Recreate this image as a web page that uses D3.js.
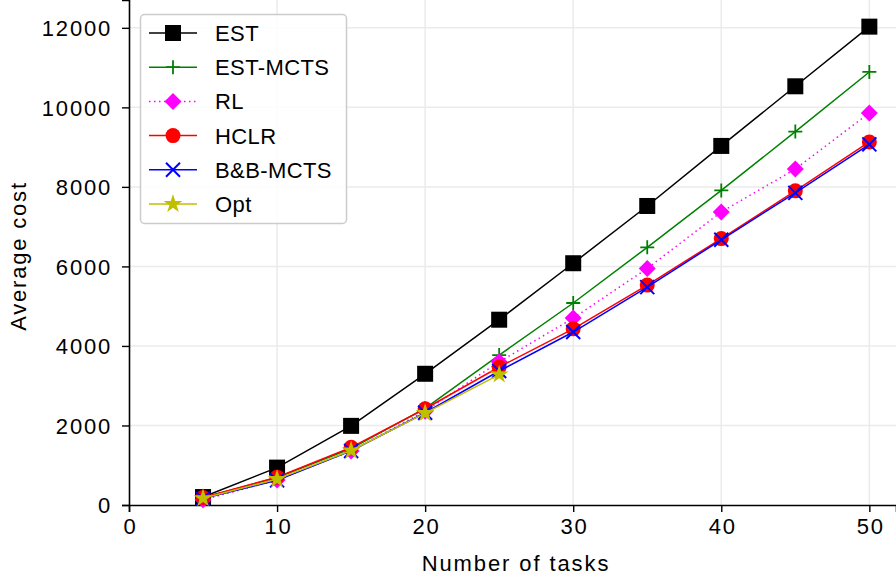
<!DOCTYPE html>
<html>
<head>
<meta charset="utf-8">
<script src="https://cdn.jsdelivr.net/npm/d3@7"></script>
<style>
  body { margin: 0; background: #fff; }
  svg text { font-family: "Liberation Sans", Arial, sans-serif; fill: #000; }
</style>
</head>
<body>
<div id="chart"></div>
<script>
// number of tasks
const tasks = [5, 10, 15, 20, 25, 30, 35, 40, 45, 50];
const optTasks = [5, 10, 15, 20, 25];

// average cost per method
const est = [200, 940, 1990, 3300, 4660, 6080, 7520, 9030, 10530, 12030];
const estMcts = [180, 690, 1420, 2430, 3770, 5080, 6480, 7910, 9390, 10890];
const rl = [130, 630, 1360, 2360, 3600, 4700, 5950, 7370, 8450, 9860];
const hclr = [190, 700, 1450, 2420, 3470, 4430, 5530, 6700, 7900, 9130];
const bbMcts = [160, 620, 1360, 2320, 3370, 4350, 5480, 6670, 7850, 9070];
const opt = [170, 650, 1370, 2310, 3280];

const xTicks = [0, 10, 20, 30, 40, 50];
const yTicks = [0, 2000, 4000, 6000, 8000, 10000, 12000];

const series = [
  { name: "EST", xs: tasks, ys: est, color: "#000000", marker: "square", dash: null },
  { name: "EST-MCTS", xs: tasks, ys: estMcts, color: "#008000", marker: "plus", dash: null },
  { name: "RL", xs: tasks, ys: rl, color: "#ff00ff", marker: "diamond", dash: "1.5,3.5" },
  { name: "HCLR", xs: tasks, ys: hclr, color: "#ff0000", marker: "circle", dash: null },
  { name: "B&B-MCTS", xs: tasks, ys: bbMcts, color: "#0000ff", marker: "x", dash: null },
  { name: "Opt", xs: optTasks, ys: opt, color: "#bfbf00", marker: "star", dash: null }
];

const W = 896, H = 581;
const svg = d3.select("#chart").append("svg")
  .attr("width", W).attr("height", H);

const x = d3.scaleLinear().domain([0, 51.8]).range([129, 896]);
const y = d3.scaleLinear().domain([0, 12700]).range([505, 0]);

// grid
svg.append("g").selectAll("line").data(xTicks.slice(1)).enter().append("line")
  .attr("x1", d => x(d)).attr("x2", d => x(d))
  .attr("y1", y.range()[0]).attr("y2", y.range()[1])
  .attr("stroke", "#ebebeb").attr("stroke-width", 1.5);
svg.append("g").selectAll("line").data(yTicks.slice(1)).enter().append("line")
  .attr("x1", x.range()[0]).attr("x2", x.range()[1])
  .attr("y1", d => y(d)).attr("y2", d => y(d))
  .attr("stroke", "#ebebeb").attr("stroke-width", 1.5);

// axes
const xAxis = svg.append("g")
  .attr("transform", `translate(0,${y(0)})`)
  .call(d3.axisBottom(x).tickValues(xTicks).tickSize(7).tickPadding(6).tickFormat(d3.format("d")));
const yAxis = svg.append("g")
  .attr("transform", `translate(${x(0)},0)`)
  .call(d3.axisLeft(y).tickValues(yTicks).tickSize(7).tickPadding(10).tickFormat(d3.format("d")));
[xAxis, yAxis].forEach(g => {
  g.select(".domain").attr("stroke", "#000").attr("stroke-width", 1.6);
  g.selectAll(".tick line").attr("stroke", "#000").attr("stroke-width", 1.4);
  g.selectAll(".tick text")
    .style("font-size", "22px")
    .style("letter-spacing", "1.8px")
    .style("font-family", "Liberation Sans, Arial, sans-serif");
});
yAxis.selectAll(".tick text").attr("dy", "0.35em");
xAxis.selectAll(".tick text").attr("dx", "0.9");

// axis titles
svg.append("text")
  .attr("x", 516).attr("y", 571)
  .attr("text-anchor", "middle")
  .style("font-size", "22px").style("letter-spacing", "1.9px")
  .text("Number of tasks");
svg.append("text")
  .attr("transform", "translate(26,256) rotate(-90)")
  .attr("text-anchor", "middle")
  .style("font-size", "22px").style("letter-spacing", "1.8px")
  .text("Average cost");

function drawMarker(g, type, color) {
  if (type === "square") {
    g.append("rect").attr("x", -8).attr("y", -8).attr("width", 16).attr("height", 16)
      .attr("fill", color);
  } else if (type === "plus") {
    g.append("path").attr("d", "M-7,0H7M0,-7V7")
      .attr("stroke", color).attr("stroke-width", 1.8).attr("fill", "none");
  } else if (type === "diamond") {
    g.append("path").attr("d", "M0,-8.5L8.5,0L0,8.5L-8.5,0Z").attr("fill", color);
  } else if (type === "circle") {
    g.append("circle").attr("r", 7.5).attr("fill", color);
  } else if (type === "x") {
    g.append("path").attr("d", "M-7,-7L7,7M-7,7L7,-7")
      .attr("stroke", color).attr("stroke-width", 2).attr("fill", "none");
  } else if (type === "star") {
    g.append("path").attr("d", d3.symbol().type(d3.symbolStar).size(110)()).attr("fill", color);
  }
}

// series
series.forEach(s => {
  const pts = s.xs.map((d, i) => [d, s.ys[i]]);
  const g = svg.append("g");
  g.append("path")
    .datum(pts)
    .attr("d", d3.line().x(d => x(d[0])).y(d => y(d[1])))
    .attr("fill", "none")
    .attr("stroke", s.color)
    .attr("stroke-width", 1.5)
    .attr("stroke-dasharray", s.dash);
  pts.forEach(p => {
    const m = g.append("g").attr("transform", `translate(${x(p[0])},${y(p[1])})`);
    drawMarker(m, s.marker, s.color);
  });
});

// legend
const leg = svg.append("g");
leg.append("rect")
  .attr("x", 140.5).attr("y", 14.5).attr("width", 206).attr("height", 209)
  .attr("rx", 4).attr("fill", "#fff").attr("fill-opacity", 0.85)
  .attr("stroke", "#cccccc").attr("stroke-width", 1.5);
const legY = d3.scaleLinear().domain([0, series.length - 1]).range([33, 204]);
series.forEach((s, i) => {
  const ly = legY(i);
  leg.append("line")
    .attr("x1", 149).attr("x2", 197).attr("y1", ly).attr("y2", ly)
    .attr("stroke", s.color).attr("stroke-width", 1.5)
    .attr("stroke-dasharray", s.dash);
  drawMarker(leg.append("g").attr("transform", `translate(173,${ly})`), s.marker, s.color);
  leg.append("text")
    .attr("x", 215).attr("y", ly).attr("dy", "0.36em")
    .style("font-size", "22px").style("letter-spacing", "0.4px")
    .text(s.name);
});
</script>
</body>
</html>
